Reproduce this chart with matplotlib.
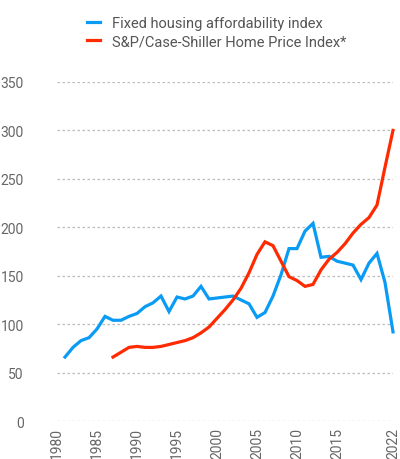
import matplotlib.pyplot as plt

# Data
years_afford = list(range(1981, 2023))
afford = [66, 76, 83, 86, 95, 108, 104, 104, 108, 111,
          118, 122, 129, 113, 128, 126, 129, 139, 126, 127,
          128, 129, 125, 121, 107, 112, 129, 151, 178, 178,
          196, 204, 169, 170, 165, 163, 161, 146, 163, 173,
          143, 92]
years_hpi = list(range(1987, 2023))
hpi = [66, 71, 76, 77, 76, 76, 77, 79, 81, 83,
       86, 91, 97, 106, 115, 125, 137, 153, 172, 185,
       181, 165, 149, 145, 139, 141, 156, 167, 174, 183,
       194, 203, 210, 223, 262, 300]
xticks = [1980, 1985, 1990, 1995, 2000, 2005, 2010, 2015, 2022]
yticks = [0, 50, 100, 150, 200, 250, 300, 350]

plt.rcParams['font.family'] = ['Roboto', 'DejaVu Sans']

fig = plt.figure(figsize=(4, 4.6), dpi=100)
ax = fig.add_axes([0.1425, 0.0826, 0.84, 0.737])

ax.plot(years_afford, afford, color='#0A9BF5', lw=2.3, label='Fixed housing affordability index',
        solid_joinstyle='miter', clip_on=False, zorder=3)
ax.plot(years_hpi, hpi, color='#FF2A00', lw=2.3, label='S&P/Case-Shiller Home Price Index*',
        solid_joinstyle='miter', clip_on=False, zorder=3)

ax.set_xlim(1980, 2022)
ax.set_ylim(0, 350)
ax.set_xticks(xticks)
ax.set_yticks(yticks)
ax.tick_params(axis='x', labelrotation=90, length=0, pad=4, labelsize=10, labelcolor='#666666')
ax.tick_params(axis='y', length=0, pad=24, labelsize=10, labelcolor='#666666')
for s in ax.spines.values():
    s.set_visible(False)
ax.grid(axis='y', color='#BBBBBB', linestyle=(0, (2, 2)), lw=0.9)
ax.set_axisbelow(True)

fig.legend(loc='upper left', bbox_to_anchor=(0.2, 0.978), frameon=False,
           fontsize=10.5, labelcolor='#555555', handlelength=0.9, handletextpad=0.8,
           borderpad=0, labelspacing=0.25)

fig.savefig('out.png', dpi=100)
